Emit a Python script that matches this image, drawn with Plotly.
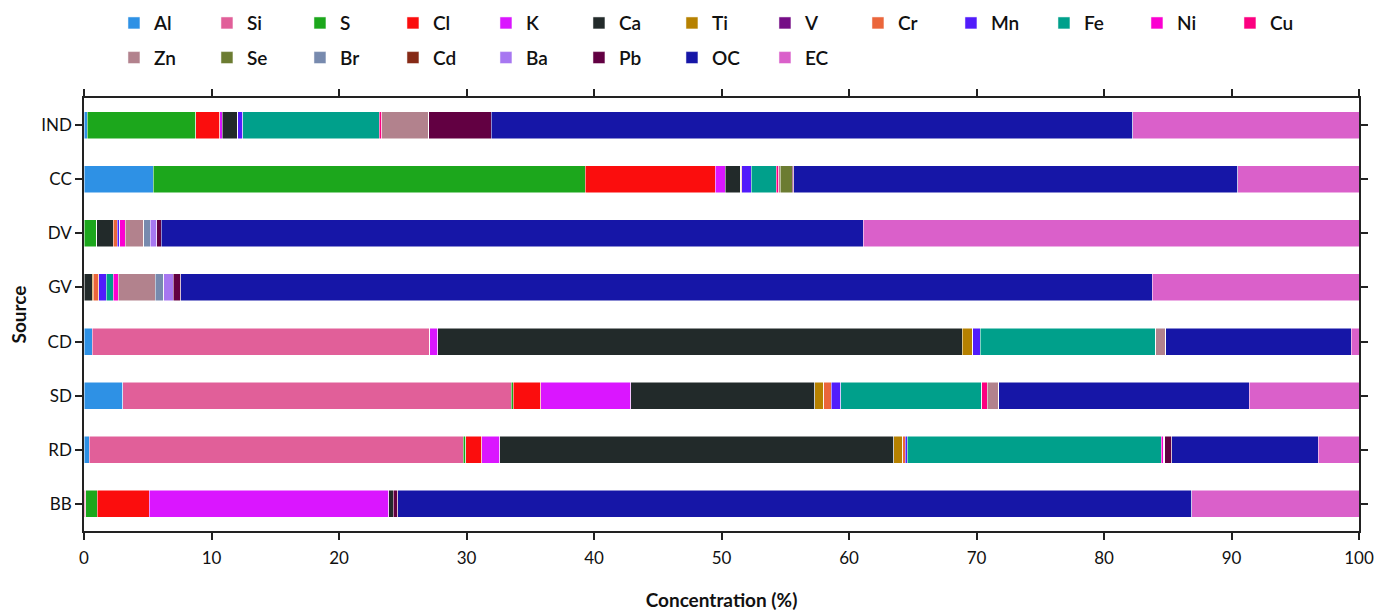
import plotly.graph_objects as go

# Sources (top to bottom on the chart)
sources = ["IND", "CC", "DV", "GV", "CD", "SD", "RD", "BB"]

# Species contributions (%) for each source, in the order of `sources`
Al = [0.25, 5.45, 0.0, 0.0, 0.63, 3.03, 0.42, 0.0]
Si = [0.0, 0.0, 0.0, 0.0, 26.47, 30.47, 29.31, 0.15]
S  = [8.5, 33.85, 1.0, 0.0, 0.0, 0.15, 0.23, 0.9]
Cl = [1.9, 10.2, 0.0, 0.0, 0.0, 2.19, 1.24, 4.05]
K  = [0.2, 0.8, 0.0, 0.0, 0.65, 7.06, 1.4, 18.8]
Ca = [1.2, 1.2, 1.3, 0.63, 41.15, 14.4, 30.9, 0.35]
Ti = [0.0, 0.0, 0.0, 0.1, 0.8, 0.7, 0.7, 0.0]
V  = [0.0, 0.0, 0.0, 0.0, 0.0, 0.0, 0.0, 0.0]
Cr = [0.0, 0.1, 0.3, 0.42, 0.0, 0.6, 0.2, 0.0]
Mn = [0.4, 0.75, 0.2, 0.58, 0.6, 0.75, 0.17, 0.0]
Fe = [10.7, 1.95, 0.0, 0.57, 13.75, 11.05, 19.93, 0.0]
Ni = [0.0, 0.0, 0.45, 0.4, 0.0, 0.0, 0.2, 0.0]
Cu = [0.2, 0.2, 0.0, 0.0, 0.0, 0.45, 0.0, 0.0]
Zn = [3.7, 0.1, 1.45, 2.87, 0.8, 0.9, 0.06, 0.0]
Se = [0.0, 0.95, 0.0, 0.0, 0.0, 0.0, 0.0, 0.0]
Br = [0.0, 0.0, 0.5, 0.7, 0.0, 0.0, 0.0, 0.0]
Cd = [0.0, 0.0, 0.0, 0.0, 0.0, 0.0, 0.0, 0.0]
Ba = [0.0, 0.0, 0.5, 0.73, 0.0, 0.0, 0.0, 0.0]
Pb = [4.9, 0.1, 0.35, 0.6, 0.0, 0.0, 0.54, 0.35]
OC = [50.3, 34.85, 55.05, 76.2, 14.55, 19.64, 11.5, 62.3]
EC = [17.75, 9.5, 38.9, 16.2, 0.6, 8.61, 3.2, 13.1]

species = [
    ("Al", Al, "#2E91E5"), ("Si", Si, "#E15F99"), ("S", S, "#1CA71C"),
    ("Cl", Cl, "#FB0D0D"), ("K", K, "#DA16FF"), ("Ca", Ca, "#222A2A"),
    ("Ti", Ti, "#B68100"), ("V", V, "#750D86"), ("Cr", Cr, "#EB663B"),
    ("Mn", Mn, "#511CFB"), ("Fe", Fe, "#00A08B"), ("Ni", Ni, "#FB00D1"),
    ("Cu", Cu, "#FC0080"), ("Zn", Zn, "#B2828D"), ("Se", Se, "#6C7C32"),
    ("Br", Br, "#778AAE"), ("Cd", Cd, "#862A16"), ("Ba", Ba, "#A777F1"),
    ("Pb", Pb, "#620042"), ("OC", OC, "#1616A7"), ("EC", EC, "#DA60CA"),
]

FONT = "Lato"
fig = go.Figure()
for i, (name, vals, color) in enumerate(species):
    fig.add_trace(go.Bar(
        x=vals, y=sources, name=name, orientation="h",
        marker=dict(color=color, line=dict(color="white", width=0.5)),
        legend="legend" if i < 13 else "legend2",
    ))

legend_style = dict(
    orientation="h", xanchor="left", yanchor="middle", x=0.0235,
    traceorder="normal",
    font=dict(family=FONT, size=19, color="#111", weight=600),
    entrywidth=48, bgcolor="rgba(0,0,0,0)",
)

axis_common = dict(
    showline=True, linecolor="#222", linewidth=1.5, mirror="ticks",
    ticks="outside", ticklen=7, tickwidth=1.5, tickcolor="#222",
    showgrid=False, zeroline=False,
    tickfont=dict(family=FONT, size=17, color="#111"),
)

fig.update_layout(
    template="simple_white",
    width=1378, height=611,
    margin=dict(l=84, r=19, t=98, b=80, autoexpand=False),
    barmode="stack", bargap=0.5,
    paper_bgcolor="white", plot_bgcolor="white",
    font=dict(family=FONT, size=16, color="#111"),
    legend=dict(legend_style, y=1.173),
    legend2=dict(legend_style, y=1.093),
    xaxis=dict(axis_common, range=[0, 100], dtick=10, ticklabelstandoff=4,
               title=dict(text="Concentration (%)", standoff=40,
                          font=dict(family=FONT, size=19, weight=700))),
    yaxis=dict(axis_common, categoryorder="array",
               categoryarray=sources[::-1],
               title=dict(text="Source", standoff=10,
                          font=dict(family=FONT, size=19, weight=700))),
)

fig.write_html("out.html")
